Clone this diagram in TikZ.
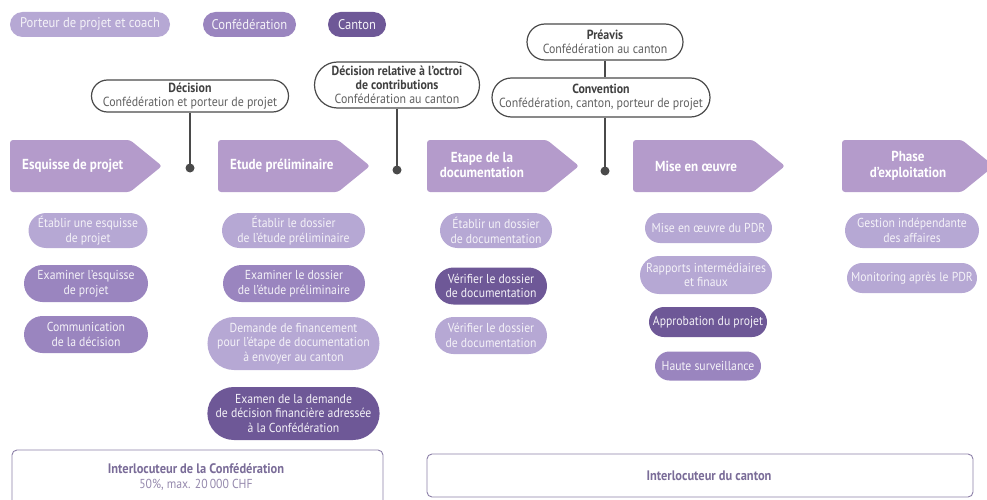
\documentclass[tikz,border=0pt]{standalone}
\usepackage{fontspec}
\setmainfont{PT Sans}[FakeStretch=0.9]
\usetikzlibrary{shapes.misc}
\definecolor{phasec}{HTML}{B49BCB}
\definecolor{lightc}{HTML}{B6A8D4}
\definecolor{medc}{HTML}{9A85BF}
\definecolor{darkc}{HTML}{6E5897}
\definecolor{linec}{HTML}{4A4A4A}
\definecolor{boxc}{HTML}{8C80A8}
\definecolor{boxt}{HTML}{7A6C98}
\definecolor{pilltext}{HTML}{F4F2F8}
\tikzset{
  pill/.style={rounded rectangle, fill=#1, text=pilltext, align=center, inner sep=0pt,
    font=\fontsize{13}{14.6}\selectfont},
  legend/.style={rounded rectangle, fill=#1, text=pilltext, inner sep=0pt, minimum height=25,
    font=\fontsize{14}{15}\selectfont},
  phase/.style={fill=phasec, rounded corners=3pt},
  phasetext/.style={text=white, font=\bfseries\fontsize{14.5}{15.5}\selectfont, inner sep=0pt, align=center},
  callout/.style={rounded rectangle, draw=linec, line width=1.2pt, fill=white, align=center,
    inner sep=0pt, text=black!62, font=\fontsize{13.2}{14}\selectfont},
  conn/.style={draw=linec, line width=1.2pt},
  dotn/.style={circle, fill=linec, minimum size=9, inner sep=0pt},
  infobox/.style={draw=boxc, line width=0.9pt, rounded corners=5pt, fill=white},
  infotext/.style={text=boxt, align=center, font=\bfseries\fontsize{13.8}{14.5}\selectfont, inner sep=0pt},
}
\newcommand{\hd}[1]{{\bfseries\color{black!75}#1}}
\begin{document}
\begin{tikzpicture}[x=1pt,y=-1pt]
\useasboundingbox (0,0) rectangle (987,500);
\clip (0,0) rectangle (987,500);

% legend
\node[legend=lightc, minimum width=160] (lg1) at (90,24.5) {Porteur de projet et coach};
\node[legend=medc, minimum width=93] (lg2) at (249.5,24.5) {Confédération};
\node[legend=darkc, minimum width=58] (lg3) at (357,24.5) {Canton};

% callouts
\node[callout, minimum width=197, minimum height=32] (dec) at (190,96)
  {\hd{Décision}\\Confédération et porteur de projet};
\node[callout, minimum width=165, minimum height=46] (rel) at (397,85)
  {\hd{Décision relative à l’octroi}\\\hd{de contributions}\\Confédération au canton};
\node[callout, minimum width=156, minimum height=36] (pre) at (605,42)
  {\hd{Préavis}\\Confédération au canton};
\node[callout, minimum width=218, minimum height=39] (conv) at (601,97.5)
  {\hd{Convention}\\Confédération, canton, porteur de projet};

% phase arrows
\foreach \x in {10,218,427,633,842}{
  \fill[phase] (\x,140) -- (\x+120,140) -- (\x+152,166) -- (\x+120,192) -- (\x,192) -- cycle;
}
\node[phasetext, anchor=west] (ph1) at (22,166) {Esquisse de projet};
\node[phasetext, anchor=west] (ph2) at (230,166) {Etude préliminaire};
\node[phasetext] (ph3) at (482,165) {Etape de la\\documentation};
\node[phasetext, anchor=west] (ph4) at (655,166) {Mise en œuvre};
\node[phasetext] (ph5) at (908,166) {Phase\\d’exploitation};

% dots and connectors
\node[dotn] (d1) at (190,168) {};
\node[dotn] (d2) at (397,170) {};
\node[dotn] (d3) at (605,171) {};
\draw[conn] (dec.south) -- (d1.center);
\draw[conn] (rel.south) -- (d2.center);
\draw[conn] (pre.south) -- (pre.south |- conv.north);
\draw[conn] (d3 |- conv.south) -- (d3.center);

% column 1
\node[pill=lightc, minimum width=119, minimum height=35] (a1) at (88,230.5) {Établir une esquisse\\de projet};
\node[pill=medc, minimum width=124, minimum height=37] (a2) at (86,283.5) {Examiner l’esquisse\\de projet};
\node[pill=medc, minimum width=124, minimum height=37] (a3) at (86,334.5) {Communication\\de la décision};

% column 2
\node[pill=lightc, minimum width=143, minimum height=35] (b1) at (293.5,230.5) {Établir le dossier\\de l’étude préliminaire};
\node[pill=medc, minimum width=142, minimum height=37] (b2) at (294,283.5) {Examiner le dossier\\de l’étude préliminaire};
\node[pill=lightc, minimum width=169, minimum height=53] (b3) at (293.5,343.5) {Demande de financement\\pour l’étape de documentation\\à envoyer au canton};
\node[pill=darkc, minimum width=169, minimum height=53] (b4) at (293.5,413.5) {Examen de la demande\\de décision financière adressée\\à la Confédération};

% column 3
\node[pill=lightc, minimum width=112, minimum height=35] (c1) at (496,230.5) {Établir un dossier\\de documentation};
\node[pill=darkc, minimum width=112, minimum height=37] (c2) at (491,286) {Vérifier le dossier\\de documentation};
\node[pill=lightc, minimum width=112, minimum height=37] (c3) at (491,335.5) {Vérifier le dossier\\de documentation};

% column 4
\node[pill=lightc, minimum width=127, minimum height=30] (e1) at (708.5,228) {Mise en œuvre du PDR};
\node[pill=lightc, minimum width=132, minimum height=38] (e2) at (706,275) {Rapports intermédiaires\\et finaux};
\node[pill=darkc, minimum width=118, minimum height=30] (e3) at (708,322) {Approbation du projet};
\node[pill=medc, minimum width=106, minimum height=29] (e4) at (708,366) {Haute surveillance};

% column 5
\node[pill=lightc, minimum width=134, minimum height=35] (f1) at (912,230.5) {Gestion indépendante\\des affaires};
\node[pill=lightc, minimum width=130, minimum height=30] (f2) at (912,278) {Monitoring après le PDR};

% bottom boxes
\draw[infobox] (12,450) rectangle (383,512);
\node[infotext] (ib1) at (196,477) {Interlocuteur de la Confédération\\{\mdseries\fontsize{13}{13}\selectfont\color{boxt!80} 50\%, max. 20\,000 CHF}};
\draw[infobox] (427,454) rectangle (973,497);
\node[infotext] (ib2) at (709,476) {Interlocuteur du canton};
\end{tikzpicture}
\end{document}
